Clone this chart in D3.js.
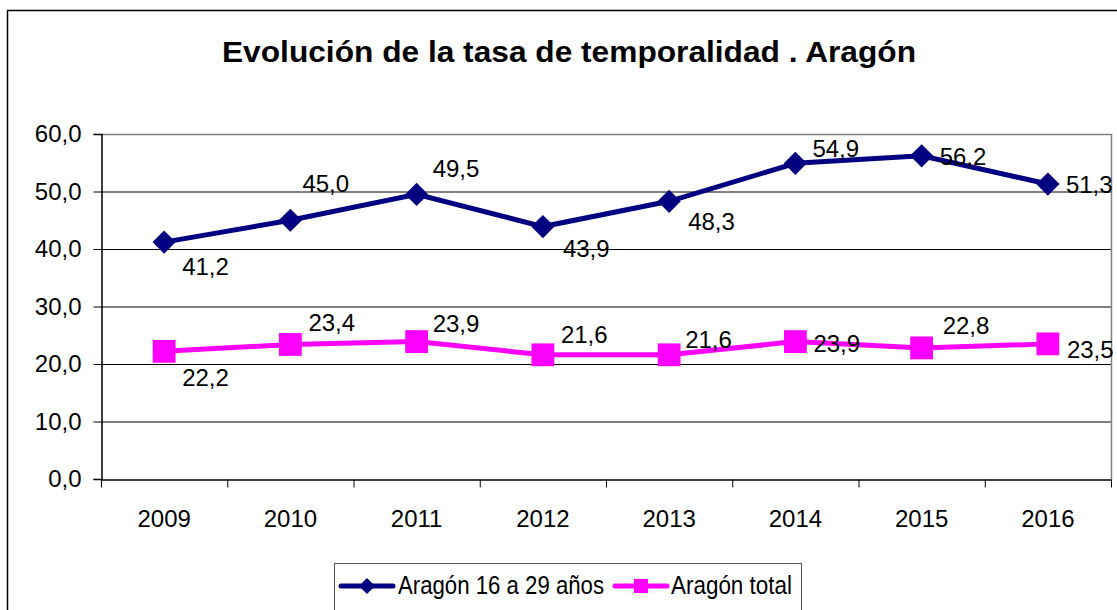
<!DOCTYPE html>
<html>
<head>
<meta charset="utf-8">
<script src="https://cdn.jsdelivr.net/npm/d3@7"></script>
<style>
  body { margin: 0; background: #fff; }
  svg { display: block; font-family: "Liberation Sans", Arial, sans-serif; }
</style>
</head>
<body>
<div id="chart"></div>
<script>
var width = 1117;
var height = 610;

// data
var years = ["2009", "2010", "2011", "2012", "2013", "2014", "2015", "2016"];
var jovenes = [41.2, 45.0, 49.5, 43.9, 48.3, 54.9, 56.2, 51.3];
var total = [22.2, 23.4, 23.9, 21.6, 21.6, 23.9, 22.8, 23.5];
var yTicks = [0, 10, 20, 30, 40, 50, 60];
var seriesNames = ["Aragón 16 a 29 años", "Aragón total"];

// label offsets (dx, dy from the point), as placed in the original
var offJovenes = [[18, 33], [12, -28], [16, -17], [20, 30], [19, 29], [17, -6], [18, 9], [18, 9]];
var offTotal = [[18, 35], [18, -13], [16, -10], [18, -12], [16, -7], [18, 10], [21, -14], [19, 14]];

var plot = {l: 101, r: 1111, t: 134, b: 479};

var svg = d3.select("#chart").append("svg")
    .attr("width", width)
    .attr("height", height);

// outer frame
svg.append("rect")
    .attr("x", 7.5).attr("y", 10.5)
    .attr("width", 1130).attr("height", 620)
    .attr("fill", "none").attr("stroke", "#000").attr("stroke-width", 1.5);

svg.append("text")
    .attr("x", 222).attr("y", 62)
    .attr("font-size", 29).attr("font-weight", "bold")
    .attr("textLength", 694).attr("lengthAdjust", "spacingAndGlyphs")
    .text("Evolución de la tasa de temporalidad . Aragón");

var x = d3.scaleBand().domain(years).range([plot.l, plot.r]).padding(0);
var y = d3.scaleLinear().domain([0, 60]).range([plot.b, plot.t]);
var fmt = function(v) { return d3.format(".1f")(v).replace(".", ","); };
var cx = function(d, i) { return x(years[i]) + x.bandwidth() / 2; };

// gridlines
svg.append("g")
    .selectAll("line")
    .data(yTicks.filter(function(t) { return t > 0 && t < 60; }))
    .enter().append("line")
    .attr("x1", plot.l).attr("x2", plot.r)
    .attr("y1", function(d) { return y(d) + 0.5; })
    .attr("y2", function(d) { return y(d) + 0.5; })
    .attr("stroke", "#000").attr("stroke-width", 1);

// plot border top/right (gray)
svg.append("path")
    .attr("d", "M" + plot.l + "," + (plot.t + 0.5) + "H" + (plot.r + 0.5) + "V" + plot.b)
    .attr("fill", "none").attr("stroke", "#808080").attr("stroke-width", 1.5);

// y axis
var yAxis = d3.axisLeft(y).tickValues(yTicks).tickSize(8).tickPadding(12).tickFormat(fmt);
var gy = svg.append("g")
    .attr("transform", "translate(" + (plot.l + 0.5) + ",0)")
    .call(yAxis);
gy.select(".domain").attr("stroke", "#000").attr("stroke-width", 1.5);
gy.selectAll(".tick line").attr("stroke", "#000");
gy.selectAll(".tick text").attr("font-size", 24).attr("fill", "#000")
    .attr("font-family", "Liberation Sans, Arial, sans-serif");

// x axis
var gx = svg.append("g")
    .attr("transform", "translate(0," + (plot.b + 0.5) + ")")
    .call(d3.axisBottom(x).tickSize(0).tickPadding(30));
gx.select(".domain").attr("stroke", "#000").attr("stroke-width", 1.5);
gx.selectAll(".tick text").attr("font-size", 24).attr("fill", "#000")
    .attr("font-family", "Liberation Sans, Arial, sans-serif");
gx.selectAll("line.sep")
    .data(years.concat(["end"]))
    .enter().append("line")
    .attr("class", "sep")
    .attr("x1", function(d, i) { return plot.l + i * x.bandwidth() + 0.5; })
    .attr("x2", function(d, i) { return plot.l + i * x.bandwidth() + 0.5; })
    .attr("y1", 0).attr("y2", 8)
    .attr("stroke", "#000");

var line = d3.line()
    .x(cx)
    .y(function(d) { return y(d); });

function drawSeries(vals, color, diamond, offs) {
    svg.append("path")
        .datum(vals)
        .attr("d", line)
        .attr("fill", "none")
        .attr("stroke", color)
        .attr("stroke-width", 5);

    svg.append("g").selectAll("path")
        .data(vals)
        .enter().append("path")
        .attr("transform", function(d, i) {
            return "translate(" + cx(d, i) + "," + y(d) + ")" + (diamond ? " rotate(45)" : "");
        })
        .attr("d", d3.symbol().type(d3.symbolSquare).size(diamond ? 270 : 520))
        .attr("fill", color);

    svg.append("g").selectAll("text")
        .data(vals)
        .enter().append("text")
        .attr("x", function(d, i) { return cx(d, i) + offs[i][0]; })
        .attr("y", function(d, i) { return y(d) + offs[i][1]; })
        .attr("font-size", 24)
        .text(fmt);
}

drawSeries(jovenes, "#000080", true, offJovenes);
drawSeries(total, "#FF00FF", false, offTotal);

// legend
var leg = svg.append("g");
leg.append("rect")
    .attr("x", 334.5).attr("y", 563.5)
    .attr("width", 467).attr("height", 60)
    .attr("fill", "#fff").attr("stroke", "#555").attr("stroke-width", 1);

var legItems = [
    {name: seriesNames[0], color: "#000080", diamond: true, size: 130, x0: 341, tx: 398, tw: 206},
    {name: seriesNames[1], color: "#FF00FF", diamond: false, size: 200, x0: 615, tx: 671, tw: 121}
];
legItems.forEach(function(it) {
    leg.append("line")
        .attr("x1", it.x0).attr("x2", it.x0 + 52)
        .attr("y1", 586).attr("y2", 586)
        .attr("stroke", it.color).attr("stroke-width", 5)
        .attr("stroke-linecap", "round");
    leg.append("path")
        .attr("transform", "translate(" + (it.x0 + 26) + ",586)" + (it.diamond ? " rotate(45)" : ""))
        .attr("d", d3.symbol().type(d3.symbolSquare).size(it.size))
        .attr("fill", it.color);
    leg.append("text")
        .attr("x", it.tx).attr("y", 594)
        .attr("font-size", 25)
        .attr("textLength", it.tw).attr("lengthAdjust", "spacingAndGlyphs")
        .text(it.name);
});
</script>
</body>
</html>
